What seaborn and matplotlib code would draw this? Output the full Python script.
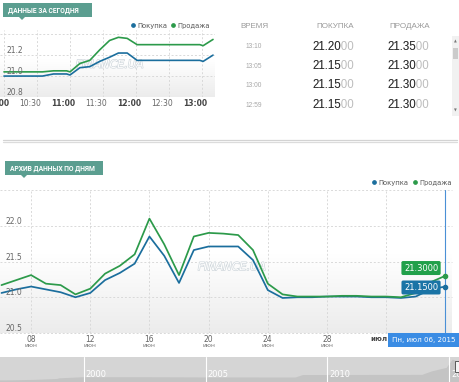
import numpy as np
import pandas as pd
import matplotlib
matplotlib.use("Agg")
import matplotlib.pyplot as plt
import seaborn as sns
from matplotlib.lines import Line2D
from matplotlib.patches import Rectangle, Polygon
import matplotlib.patheffects as pe
import matplotlib.transforms as mtrans

# ---- data: today (minutes after 10:00) ----
today_min = [0, 35, 45, 57, 60, 69, 78, 87, 96, 104, 112, 121, 178, 181, 190]
today_buy = [21.00, 21.00, 21.02, 21.02, 21.01, 21.08, 21.09, 21.14, 21.18, 21.22, 21.22, 21.15, 21.15, 21.14, 21.20]
today_sell = [21.04, 21.04, 21.05, 21.05, 21.04, 21.12, 21.15, 21.25, 21.34, 21.37, 21.36, 21.30, 21.30, 21.29, 21.35]
today_ticks = [0, 30, 60, 90, 120, 150, 180]
today_tick_labels = ["10:00", "10:30", "11:00", "11:30", "12:00", "12:30", "13:00"]
today_yticks = [20.8, 21.0, 21.2]

# ---- data: table ----
table_times = ["13:10", "13:05", "13:00", "12:59"]
table_buy = ["21.2000", "21.1500", "21.1500", "21.1500"]
table_sell = ["21.3500", "21.3000", "21.3000", "21.3000"]

# ---- data: archive by days ----
arch_dates = pd.date_range("2015-06-06", "2015-07-06", freq="D")
arch_buy = [21.06, 21.11, 21.15, 21.11, 21.07, 21.00, 21.06, 21.24, 21.34, 21.47, 21.85,
            21.58, 21.20, 21.66, 21.71, 21.71, 21.71, 21.52, 21.10, 20.99, 21.00, 21.00,
            21.01, 21.01, 21.01, 21.00, 21.00, 20.99, 21.01, 21.11, 21.15]
arch_sell = [21.17, 21.24, 21.31, 21.19, 21.17, 21.04, 21.12, 21.33, 21.44, 21.60, 22.10,
             21.74, 21.31, 21.85, 21.90, 21.89, 21.87, 21.66, 21.19, 21.04, 21.01, 21.01,
             21.01, 21.02, 21.02, 21.01, 21.01, 21.00, 21.06, 21.21, 21.30]
arch_tick_days = ["2015-06-08", "2015-06-12", "2015-06-16", "2015-06-20", "2015-06-24", "2015-06-28", "2015-07-02"]
arch_yticks = [21.0, 21.5, 22.0]
arch_ygrid = [20.5, 21.0, 21.5, 22.0, 22.5]
month_names = {6: "июн", 7: "июл"}

# ---- data: navigator (long history) ----
nav_year = [1996.5, 1997, 1998, 1998.9, 1999, 2000, 2001, 2003, 2005, 2008.7, 2009, 2013.9, 2014.3, 2014.9, 2015.15, 2015.5]
nav_rate = [1.8, 1.86, 2.4, 3.4, 4.1, 5.4, 5.37, 5.33, 5.1, 5.05, 7.8, 7.99, 11.9, 15.8, 25.0, 21.5]
nav_labels = [2000, 2005, 2010, 2015]

blue = "#1b6e9d"
green = "#2c9a4a"
grid_c = "#d9d9d9"
label_c = "#666666"

sns.set_style("white")
plt.rcParams["font.family"] = ["DejaVu Sans"]

fig = plt.figure(figsize=(4.6, 3.82), dpi=100)
W, H = 460.0, 382.0


def add_ax(x0, y0, x1, y1):
    return fig.add_axes([x0 / W, 1 - y1 / H, (x1 - x0) / W, (y1 - y0) / H])


def gradient(ax):
    g = np.linspace(0, 1, 200)
    shade = np.clip((0.55 - g) / 0.55, 0, 1) * 0.075
    img = np.ones((200, 1, 3)) - shade[:, None, None]
    ax.imshow(img[::-1], extent=[0, 1, 0, 1], transform=ax.transAxes, aspect="auto", zorder=0)


def watermark(ax, x, y):
    ax.text(x, y, "FINANCE.UA", transform=ax.transAxes, ha="center", va="center",
            fontsize=8, style="italic", color="white", zorder=1,
            path_effects=[pe.withStroke(linewidth=0.9, foreground="#cdd5da")])


handles = [Line2D([], [], marker="o", ls="", color=blue, ms=2.4, label="Покупка"),
           Line2D([], [], marker="o", ls="", color=green, ms=2.4, label="Продажа")]
leg_kw = dict(handles=handles, ncol=2, loc="lower right", frameon=False, fontsize=4.9,
              handletextpad=0.25, columnspacing=0.5, borderaxespad=0, labelcolor="#555555",
              handlelength=0.8)

# ================= top chart =================
ax1 = add_ax(0, 30, 215, 97)
gradient(ax1)
df_today = pd.DataFrame({"minute": today_min, "buy": today_buy, "sell": today_sell})
sns.lineplot(data=df_today, x="minute", y="buy", ax=ax1, color=blue, lw=1.2, zorder=3)
sns.lineplot(data=df_today, x="minute", y="sell", ax=ax1, color=green, lw=1.2, zorder=3)
ax1.set_xlim(-3.6, 191.8)
ax1.set_ylim(20.8, 21.44)
for t in today_ticks:
    ax1.axvline(t, color=grid_c, lw=0.7, ls=(0, (2, 2)), zorder=1)
for v in [20.8, 21.0, 21.2, 21.4]:
    ax1.axhline(v, color=grid_c, lw=0.7, ls=(0, (2, 2)), zorder=1)
for v in today_yticks:
    ax1.annotate(f"{v:.1f}", xy=(0, v), xycoords=("axes fraction", "data"), xytext=(5, 3.2),
                 textcoords="offset points", va="center", ha="left", fontsize=5.5, color=label_c)
ax1.set_xticks(today_ticks)
ax1.set_xticklabels(today_tick_labels)
ax1.tick_params(axis="x", length=0, pad=1.5, labelsize=5.5, labelcolor=label_c)
ax1.set_yticks([])
shift = mtrans.ScaledTranslation(-7 / 100, 0, fig.dpi_scale_trans)
for lab in ax1.get_xticklabels():
    lab.set_transform(lab.get_transform() + shift)
    if lab.get_text().endswith(":00"):
        lab.set_fontweight("bold")
        lab.set_color("#444444")
ax1.set_xlabel("")
ax1.set_ylabel("")
sns.despine(ax=ax1, left=True, bottom=True)
watermark(ax1, 0.51, 0.48)
ax1.legend(bbox_to_anchor=(0.99, 0.98), **leg_kw)

# ================= archive chart =================
ax2 = add_ax(0, 190, 452, 333)
gradient(ax2)
day_num = [(d - arch_dates[0]).days for d in arch_dates]
df_arch = pd.DataFrame({"day": day_num, "buy": arch_buy, "sell": arch_sell})
sns.lineplot(data=df_arch, x="day", y="buy", ax=ax2, color=blue, lw=1.25, zorder=3)
sns.lineplot(data=df_arch, x="day", y="sell", ax=ax2, color=green, lw=1.25, zorder=3)
ax2.set_xlim(-0.1, 30.45)
ax2.set_ylim(20.5, 22.5)
for v in arch_ygrid:
    ax2.axhline(v, color=grid_c, lw=0.7, ls=(0, (2, 2)), zorder=1, clip_on=False)
for v in arch_yticks + [20.5]:
    ax2.annotate(f"{v:.1f}", xy=(0, v), xycoords=("axes fraction", "data"), xytext=(4.3, 3.2),
                 textcoords="offset points", va="center", ha="left", fontsize=5.5, color=label_c)
for ds in arch_tick_days:
    d = pd.Timestamp(ds)
    x = (d - arch_dates[0]).days
    ax2.axvline(x, color=grid_c, lw=0.7, ls=(0, (2, 2)), zorder=1)
    if d.month == 7:
        ax2.annotate(month_names[d.month], xy=(x, 0), xycoords=("data", "axes fraction"), xytext=(-5, -4.5),
                     textcoords="offset points", ha="center", va="center", fontsize=5, color="#444444",
                     fontweight="bold", annotation_clip=False)
    else:
        ax2.annotate(f"{d.day:02d}", xy=(x, 0), xycoords=("data", "axes fraction"), xytext=(0, -4.5),
                     textcoords="offset points", ha="center", va="center", fontsize=5.5, color=label_c,
                     annotation_clip=False)
        ax2.annotate(month_names[d.month], xy=(x, 0), xycoords=("data", "axes fraction"), xytext=(0, -9),
                     textcoords="offset points", ha="center", va="center", fontsize=4.3, color="#777777",
                     annotation_clip=False)
ax2.set_xticks([])
ax2.set_yticks([])
ax2.set_xlabel("")
ax2.set_ylabel("")
sns.despine(ax=ax2, left=True, bottom=True)
watermark(ax2, 0.513, 0.46)

last = day_num[-1]
ax2.axvline(last, color="#4a90d6", lw=0.8, zorder=4, clip_on=False)
ax2.plot([last], [arch_sell[-1]], "o", color=green, ms=3, zorder=5)
ax2.plot([last], [arch_buy[-1]], "o", color=blue, ms=3, zorder=5)
ax2.annotate(f"{arch_sell[-1]:.4f}", xy=(last, arch_sell[-1]), xytext=(-17.5, 5.6), textcoords="offset points",
             ha="center", va="center", fontsize=6, color="white", zorder=6,
             bbox=dict(boxstyle="round,pad=0.3,rounding_size=0.2", fc="#21a04a", ec="none"))
ax2.annotate(f"{arch_buy[-1]:.4f}", xy=(last, arch_buy[-1]), xytext=(-17.5, -0.7), textcoords="offset points",
             ha="center", va="center", fontsize=6, color="white", zorder=6,
             bbox=dict(boxstyle="round,pad=0.3,rounding_size=0.2", fc="#1a74a6", ec="none"))
ax2.legend(bbox_to_anchor=(1.005, 1.01), **leg_kw)

# ================= navigator =================
axn = add_ax(0, 357, 460, 382)
axn.set_facecolor("#d5d5d5")
axn.fill_between(nav_year, nav_rate, 0, color="#c4c4c4", lw=0)
axn.set_xlim(1996.56, 2015.45)
axn.set_ylim(0, 28)
for yr in nav_labels:
    axn.axvline(yr, color="white", lw=0.8)
    axn.text(yr + 0.08, 0.3, str(yr), transform=axn.get_xaxis_transform(), color="white",
             fontsize=6, ha="left", va="center")
axn.set_xticks([])
axn.set_yticks([])
for s in axn.spines.values():
    s.set_visible(False)

# ================= overlay: badges, table, decorations =================
ov = fig.add_axes([0, 0, 1, 1], zorder=10)
ov.set_xlim(0, W)
ov.set_ylim(H, 0)
ov.axis("off")
ov.patch.set_alpha(0)

teal = "#5b9e90"
for (x0, y0, w, txt) in [(3, 3, 89, "ДАННЫЕ ЗА СЕГОДНЯ"), (5, 161, 98, "АРХИВ ДАННЫХ ПО ДНЯМ")]:
    ov.add_patch(Rectangle((x0, y0), w, 14, color=teal, lw=0))
    ov.add_patch(Polygon([(x0 + 16, y0 + 14), (x0 + 22, y0 + 14), (x0 + 19, y0 + 17)], color=teal, lw=0))
    ov.text(x0 + 5, y0 + 7.3, txt, color="white", fontsize=4.9, fontweight="bold", ha="left", va="center",
            family="Roboto")

# table
hdr = dict(fontsize=5.8, color="#9a9a9a", ha="center", va="center", family="Liberation Sans")
ov.text(254, 27, "ВРЕМЯ", **hdr)
ov.text(335, 27, "ПОКУПКА", **hdr)
ov.text(410, 27, "ПРОДАЖА", **hdr)
row_y = [46.5, 66, 85.5, 105.5]
for ty, t, b, s in zip(row_y, table_times, table_buy, table_sell):
    ov.text(254, ty, t, fontsize=4.8, color="#a8a8a8", ha="center", va="center", family="Liberation Sans")
    for x0, val in [(312, b), (387, s)]:
        ov.text(x0, ty, val, fontsize=8.3, color="#bdbdbd", ha="left", va="center", family="Liberation Sans")
        ov.text(x0, ty, val[:5], fontsize=8.3, color="#2a2a2a", ha="left", va="center", family="Liberation Sans")

# scrollbar
ov.add_patch(Rectangle((452, 36), 7, 80, color="#f1f1f1", lw=0))
ov.add_patch(Rectangle((453, 48), 5, 11, color="#cbcbcb", lw=0))
ov.text(455.5, 41.5, "▲", fontsize=2.6, color="#777777", ha="center", va="center")
ov.text(455.5, 111, "▼", fontsize=2.6, color="#777777", ha="center", va="center")

# separator
ov.plot([3, 457], [139.5, 139.5], color="#d3d3d3", lw=0.9)
ov.plot([3, 457], [142, 142], color="#dcdcdc", lw=0.9)

# tooltip
ov.add_patch(Rectangle((388, 333), 72, 14, color="#3a8ce4", lw=0))
ov.text(424, 340.3, "Пн, июл 06, 2015", color="white", fontsize=5.1, ha="center", va="center")

# navigator handle
ov.add_patch(Rectangle((455, 361), 4, 11, fc="#f4f4f4", ec="#444444", lw=0.6))

fig.savefig("out.png", dpi=100)
